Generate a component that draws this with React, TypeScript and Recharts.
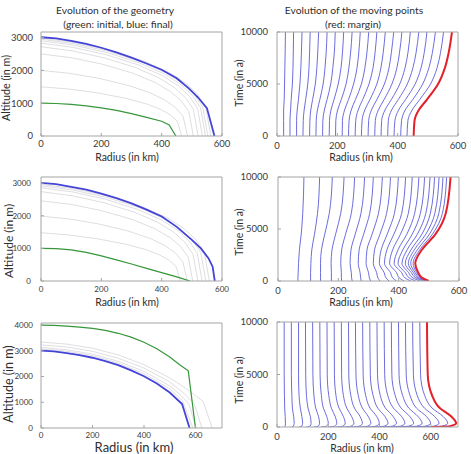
import React from 'react';
import { LineChart, Line, XAxis, YAxis } from 'recharts';

const FONT = 'Lato, "Open Sans", sans-serif';

// ---------- geometry runs: radius (km) -> altitude (m) ----------
const geoAInitial = [[0,1000],[50,990],[100,965],[150,920],[200,860],[250,780],[300,680],[350,570],[400,450],[425,340],[447,0]];
const geoAFinal = [[0,3010],[50,2975],[100,2900],[150,2810],[200,2690],[250,2550],[300,2390],[350,2210],[400,2020],[450,1760],[490,1450],[520,1180],[550,850],[575,0]];
const geoASteps = [
  [[0,1500],[93,1431],[186,1316],[280,1152],[350,978],[396,813],[429,644],[452,449],[466,0]],
  [[0,2000],[97,1908],[194,1754],[292,1536],[365,1304],[413,1084],[447,858],[471,598],[486,0]],
  [[0,2500],[101,2385],[202,2193],[303,1920],[379,1630],[429,1355],[465,1073],[490,748],[505,0]],
  [[0,2720],[104,2595],[208,2385],[313,2089],[391,1773],[443,1474],[479,1167],[505,813],[521,0]],
  [[0,2830],[107,2700],[214,2482],[321,2173],[401,1845],[455,1534],[492,1214],[519,846],[535,0]],
  [[0,2900],[109,2767],[218,2543],[327,2227],[409,1891],[463,1572],[501,1244],[529,867],[545,0]],
  [[0,2950],[111,2814],[221,2587],[332,2266],[415,1923],[470,1599],[509,1266],[536,882],[553,0]],
  [[0,2985],[113,2848],[225,2618],[338,2292],[422,1946],[479,1618],[518,1281],[546,893],[563,0]],
];

const geoBInitial = [[0,1000],[50,990],[100,955],[150,880],[200,770],[250,650],[300,520],[350,385],[400,255],[450,125],[494,0]];
const geoBFinal = [[0,3010],[50,2970],[100,2890],[150,2800],[200,2680],[250,2540],[300,2380],[350,2190],[400,1980],[450,1660],[500,1260],[530,1000],[555,700],[569,440],[576,0]];
const geoBSteps = [
  [[0,1480],[92,1412],[185,1298],[277,1137],[347,965],[393,802],[425,635],[448,443],[462,0]],
  [[0,1990],[97,1898],[194,1745],[291,1528],[364,1297],[412,1079],[446,854],[470,595],[485,0]],
  [[0,2460],[101,2347],[201,2157],[302,1889],[377,1604],[428,1333],[463,1055],[488,736],[503,0]],
  [[0,2740],[104,2614],[208,2403],[312,2104],[390,1786],[442,1485],[478,1175],[504,819],[520,0]],
  [[0,2860],[107,2728],[214,2508],[320,2196],[401,1865],[454,1550],[491,1227],[518,855],[534,0]],
  [[0,2920],[109,2786],[218,2561],[328,2243],[410,1904],[464,1583],[502,1253],[530,873],[546,0]],
  [[0,2965],[112,2829],[223,2600],[335,2277],[419,1933],[474,1607],[513,1272],[541,887],[558,0]],
];

const geoCInitial = [[0,4000],[50,3990],[100,3960],[150,3920],[200,3870],[250,3790],[300,3680],[350,3530],[400,3330],[450,3080],[500,2760],[540,2450],[572,2220],[600,0]];
const geoCFinal = [[0,3010],[50,2980],[100,2910],[150,2830],[200,2730],[250,2600],[300,2440],[350,2240],[400,2010],[450,1730],[500,1380],[548,930],[577,0]];
const geoCSteps = [
  [[0,3340],[100,3260],[200,3100],[300,2840],[400,2460],[500,1950],[560,1560],[630,1030],[665,0]],
  [[0,3230],[100,3150],[200,2980],[300,2710],[400,2330],[500,1790],[555,1350],[595,950],[625,0]],
  [[0,3130],[100,3040],[200,2870],[300,2590],[400,2200],[500,1640],[545,1250],[575,920],[603,0]],
  [[0,3070],[100,2980],[200,2810],[300,2520],[400,2110],[500,1530],[550,1050],[590,0]],
];

// ---------- moving points: radius (km) of each point at each time (a) ----------
const runATimes = [0, 1500, 2500, 3500, 5000, 6500, 8000, 10000];
const runAMargin = [453, 456, 470, 497, 534, 556, 569, 580];
const runAPoints = [
  [22, 22, 22, 24, 25, 26, 27, 28],
  [43, 43, 45, 47, 51, 53, 54, 55],
  [65, 65, 67, 71, 76, 79, 81, 83],
  [86, 87, 90, 95, 102, 106, 108, 110],
  [108, 109, 112, 118, 127, 132, 135, 138],
  [129, 130, 134, 142, 153, 159, 163, 166],
  [151, 152, 157, 166, 178, 185, 190, 193],
  [173, 174, 179, 189, 203, 212, 217, 221],
  [194, 195, 201, 213, 229, 238, 244, 249],
  [216, 217, 224, 237, 254, 265, 271, 276],
  [237, 239, 246, 260, 280, 291, 298, 304],
  [259, 261, 269, 284, 305, 318, 325, 331],
  [280, 282, 291, 308, 331, 344, 352, 359],
  [302, 304, 313, 331, 356, 371, 379, 387],
  [324, 326, 336, 355, 381, 397, 406, 414],
  [345, 347, 358, 379, 407, 424, 434, 442],
  [367, 369, 380, 402, 432, 450, 461, 470],
  [388, 391, 403, 426, 458, 477, 488, 497],
  [410, 413, 425, 450, 483, 503, 515, 525],
  [431, 434, 448, 473, 509, 530, 542, 552],
];

const runBTimes = [0, 300, 800, 1700, 3000, 4500, 6500, 10000];
const runBMargin = [500, 478, 465, 455, 477, 522, 556, 572];
const runBPoints = [
  [66, 66, 67, 68, 71, 77, 82, 86],
  [108, 108, 108, 109, 112, 121, 131, 138],
  [141, 141, 141, 141, 144, 155, 170, 180],
  [177, 177, 177, 176, 179, 191, 208, 219],
  [211, 210, 210, 208, 211, 224, 243, 254],
  [246, 244, 243, 239, 242, 256, 275, 287],
  [276, 274, 272, 266, 269, 284, 304, 316],
  [307, 303, 300, 292, 295, 312, 333, 346],
  [338, 331, 327, 316, 320, 338, 360, 373],
  [368, 358, 352, 336, 342, 362, 386, 399],
  [393, 380, 373, 353, 361, 384, 410, 423],
  [418, 402, 393, 370, 380, 406, 432, 445],
  [440, 421, 410, 385, 398, 427, 453, 467],
  [456, 435, 422, 398, 414, 445, 472, 486],
  [471, 447, 433, 411, 428, 462, 490, 504],
  [482, 457, 442, 422, 441, 477, 505, 519],
  [490, 464, 449, 432, 452, 490, 520, 534],
  [494, 469, 455, 440, 462, 502, 533, 547],
  [497, 474, 460, 448, 470, 512, 545, 559],
];

const runCTimes = [0, 80, 350, 1000, 1800, 3000, 5000, 10000];
const runCMargin = [600, 675, 699, 680, 635, 605, 588, 585];
const runCPoints = [
  [29, 32, 33, 32, 30, 29, 28, 28],
  [57, 64, 67, 65, 60, 58, 56, 56],
  [86, 96, 100, 97, 91, 86, 84, 84],
  [114, 129, 133, 130, 121, 115, 112, 111],
  [143, 161, 166, 162, 151, 144, 140, 139],
  [171, 193, 200, 194, 181, 173, 168, 167],
  [200, 225, 233, 227, 212, 202, 196, 195],
  [229, 257, 266, 259, 242, 230, 224, 223],
  [257, 289, 300, 291, 272, 259, 252, 251],
  [286, 321, 333, 324, 302, 288, 280, 279],
  [314, 354, 366, 356, 333, 317, 308, 306],
  [343, 386, 399, 389, 363, 346, 336, 334],
  [371, 418, 433, 421, 393, 375, 364, 362],
  [400, 450, 466, 453, 423, 403, 392, 390],
  [429, 482, 499, 486, 454, 432, 420, 418],
  [457, 514, 533, 518, 484, 461, 448, 446],
  [486, 546, 566, 550, 514, 490, 476, 474],
  [514, 579, 599, 583, 544, 519, 504, 501],
  [543, 611, 632, 615, 575, 547, 532, 529],
  [571, 643, 666, 648, 605, 576, 560, 557],
];

// ---------- tick values ----------
const radiusTicks = [0, 200, 400, 600];
const altitudeTicks3k = [0, 1000, 2000, 3000];
const altitudeTicks4k = [0, 1000, 2000, 3000, 4000];
const timeTicks = [0, 5000, 10000];

type Pt = { r: number; v: number };
type Series = { pts: Pt[]; color: string; width: number; curve: 'linear' | 'monotoneY' };

const toPts = (pairs: number[][]): Pt[] => pairs.map(([r, v]) => ({ r, v }));
const trackPts = (row: number[], times: number[]): Pt[] => row.map((r, k) => ({ r, v: times[k] }));

const GRAY = '#d6d6da';
const GREEN = '#36963a';
const BLUE_FINAL = '#4444d8';
const BLUE_TRACK = '#5c5cd8';
const RED = '#e4202a';

function geometrySeries(steps: number[][][], initial: number[][], final: number[][]): Series[] {
  return [
    ...steps.map((s) => ({ pts: toPts(s), color: GRAY, width: 0.8, curve: 'linear' as const })),
    { pts: toPts(initial), color: GREEN, width: 1.2, curve: 'linear' },
    { pts: toPts(final), color: BLUE_FINAL, width: 1.8, curve: 'linear' },
  ];
}

function trackSeries(points: number[][], margin: number[], times: number[]): Series[] {
  return [
    ...points.map((row) => ({ pts: trackPts(row, times), color: BLUE_TRACK, width: 0.9, curve: 'monotoneY' as const })),
    { pts: trackPts(margin, times), color: RED, width: 2, curve: 'monotoneY' },
  ];
}

type PanelProps = {
  left: number; top: number; plotW: number; plotH: number;
  xMax: number; yMax: number; xTicks: number[]; yTicks: number[];
  tickFont: number; xTickGap: number; yTickGap: number;
  series: Series[];
};

// One boxed panel; (left, top) is the top-left corner of the plotting area.
function Panel(p: PanelProps) {
  const yW = 46, mt = 10, mr = 14, xH = 20;
  const axisColor = '#a4a4a4';
  const tickStyle = { fontSize: p.tickFont, fill: '#3a3a3a', fontFamily: FONT };
  return (
    <div style={{ position: 'absolute', left: p.left - yW, top: p.top - mt - 1 }}>
      <LineChart width={yW + p.plotW + 1 + mr} height={mt + 1 + p.plotH + xH} margin={{ top: mt, right: mr, bottom: 0, left: 0 }}>
        <XAxis xAxisId="b" type="number" dataKey="r" domain={[0, p.xMax]} ticks={p.xTicks} interval={0} allowDataOverflow
          height={xH} stroke={axisColor} tickSize={-3} tickMargin={p.xTickGap} tick={tickStyle} />
        <XAxis xAxisId="t" orientation="top" type="number" dataKey="r" domain={[0, p.xMax]} ticks={p.xTicks} interval={0} allowDataOverflow
          height={1} stroke={axisColor} tickSize={-3} tick={false} />
        <YAxis yAxisId="l" type="number" dataKey="v" domain={[0, p.yMax]} ticks={p.yTicks} interval={0} allowDataOverflow
          width={yW} stroke={axisColor} tickSize={-3} tickMargin={p.yTickGap} tick={tickStyle} />
        <YAxis yAxisId="r" orientation="right" type="number" dataKey="v" domain={[0, p.yMax]} ticks={p.yTicks} interval={0} allowDataOverflow
          width={1} stroke={axisColor} tickSize={-3} tick={false} />
        {p.series.map((s, i) => (
          <Line key={i} xAxisId="b" yAxisId="l" data={s.pts} dataKey="v" type={s.curve} stroke={s.color}
            strokeWidth={s.width} dot={false} activeDot={false} isAnimationActive={false} />
        ))}
      </LineChart>
    </div>
  );
}

function Label({ x, y, size, text, rotate }: { x: number; y: number; size: number; text: string; rotate?: boolean }) {
  return (
    <text x={x} y={y} fontSize={size} fontFamily={FONT} fill="#2e2e2e" textAnchor="middle"
      transform={rotate ? `rotate(-90 ${x} ${y})` : undefined}>{text}</text>
  );
}

export default function App() {
  return (
    <div style={{ position: 'absolute', left: 0, top: 0, width: 471, height: 454, background: '#fff', overflow: 'hidden' }}>
      <Panel left={41} top={32} plotW={181} plotH={104} xMax={600} yMax={3170} xTicks={radiusTicks} yTicks={altitudeTicks3k}
        tickFont={9.5} xTickGap={7} yTickGap={11} series={geometrySeries(geoASteps, geoAInitial, geoAFinal)} />
      <Panel left={277} top={32} plotW={181} plotH={104} xMax={600} yMax={10000} xTicks={radiusTicks} yTicks={timeTicks}
        tickFont={9.5} xTickGap={9} yTickGap={12} series={trackSeries(runAPoints, runAMargin, runATimes)} />
      <Panel left={41} top={177} plotW={181} plotH={104} xMax={600} yMax={3190} xTicks={radiusTicks} yTicks={altitudeTicks3k}
        tickFont={8} xTickGap={8.5} yTickGap={13} series={geometrySeries(geoBSteps, geoBInitial, geoBFinal)} />
      <Panel left={278} top={177} plotW={181} plotH={104} xMax={600} yMax={10000} xTicks={radiusTicks} yTicks={timeTicks}
        tickFont={9.5} xTickGap={9} yTickGap={13} series={trackSeries(runBPoints, runBMargin, runBTimes)} />
      <Panel left={41} top={323} plotW={181} plotH={105} xMax={703} yMax={4080} xTicks={radiusTicks} yTicks={altitudeTicks4k}
        tickFont={8} xTickGap={7.5} yTickGap={11} series={geometrySeries(geoCSteps, geoCInitial, geoCFinal)} />
      <Panel left={277} top={322} plotW={181} plotH={105} xMax={706} yMax={10000} xTicks={radiusTicks} yTicks={timeTicks}
        tickFont={9.5} xTickGap={9.5} yTickGap={12} series={trackSeries(runCPoints, runCMargin, runCTimes)} />

      <svg width={471} height={454} style={{ position: 'absolute', left: 0, top: 0, pointerEvents: 'none' }}>
        <Label x={115} y={14} size={10.3} text="Evolution of the geometry" />
        <Label x={118} y={27.5} size={10.3} text="(green: initial, blue: final)" />
        <Label x={354} y={14} size={10.3} text="Evolution of the moving points" />
        <Label x={353} y={27.5} size={10.3} text="(red: margin)" />

        <Label x={127} y={161} size={10.5} text="Radius (in km)" />
        <Label x={361} y={161} size={10.5} text="Radius (in km)" />
        <Label x={127} y={306} size={10.5} text="Radius (in km)" />
        <Label x={361} y={306} size={10.5} text="Radius (in km)" />
        <Label x={134} y={452} size={13} text="Radius (in km)" />
        <Label x={362} y={452} size={10.5} text="Radius (in km)" />

        <Label x={10} y={88} size={10.7} text="Altitude (in m)" rotate />
        <Label x={13} y={241} size={12} text="Altitude (in m)" rotate />
        <Label x={13} y={384} size={12.5} text="Altitude (in m)" rotate />
        <Label x={243} y={83} size={10.5} text="Time (in a)" rotate />
        <Label x={243} y={232} size={10.5} text="Time (in a)" rotate />
        <Label x={243} y={380} size={10.5} text="Time (in a)" rotate />
      </svg>
    </div>
  );
}
